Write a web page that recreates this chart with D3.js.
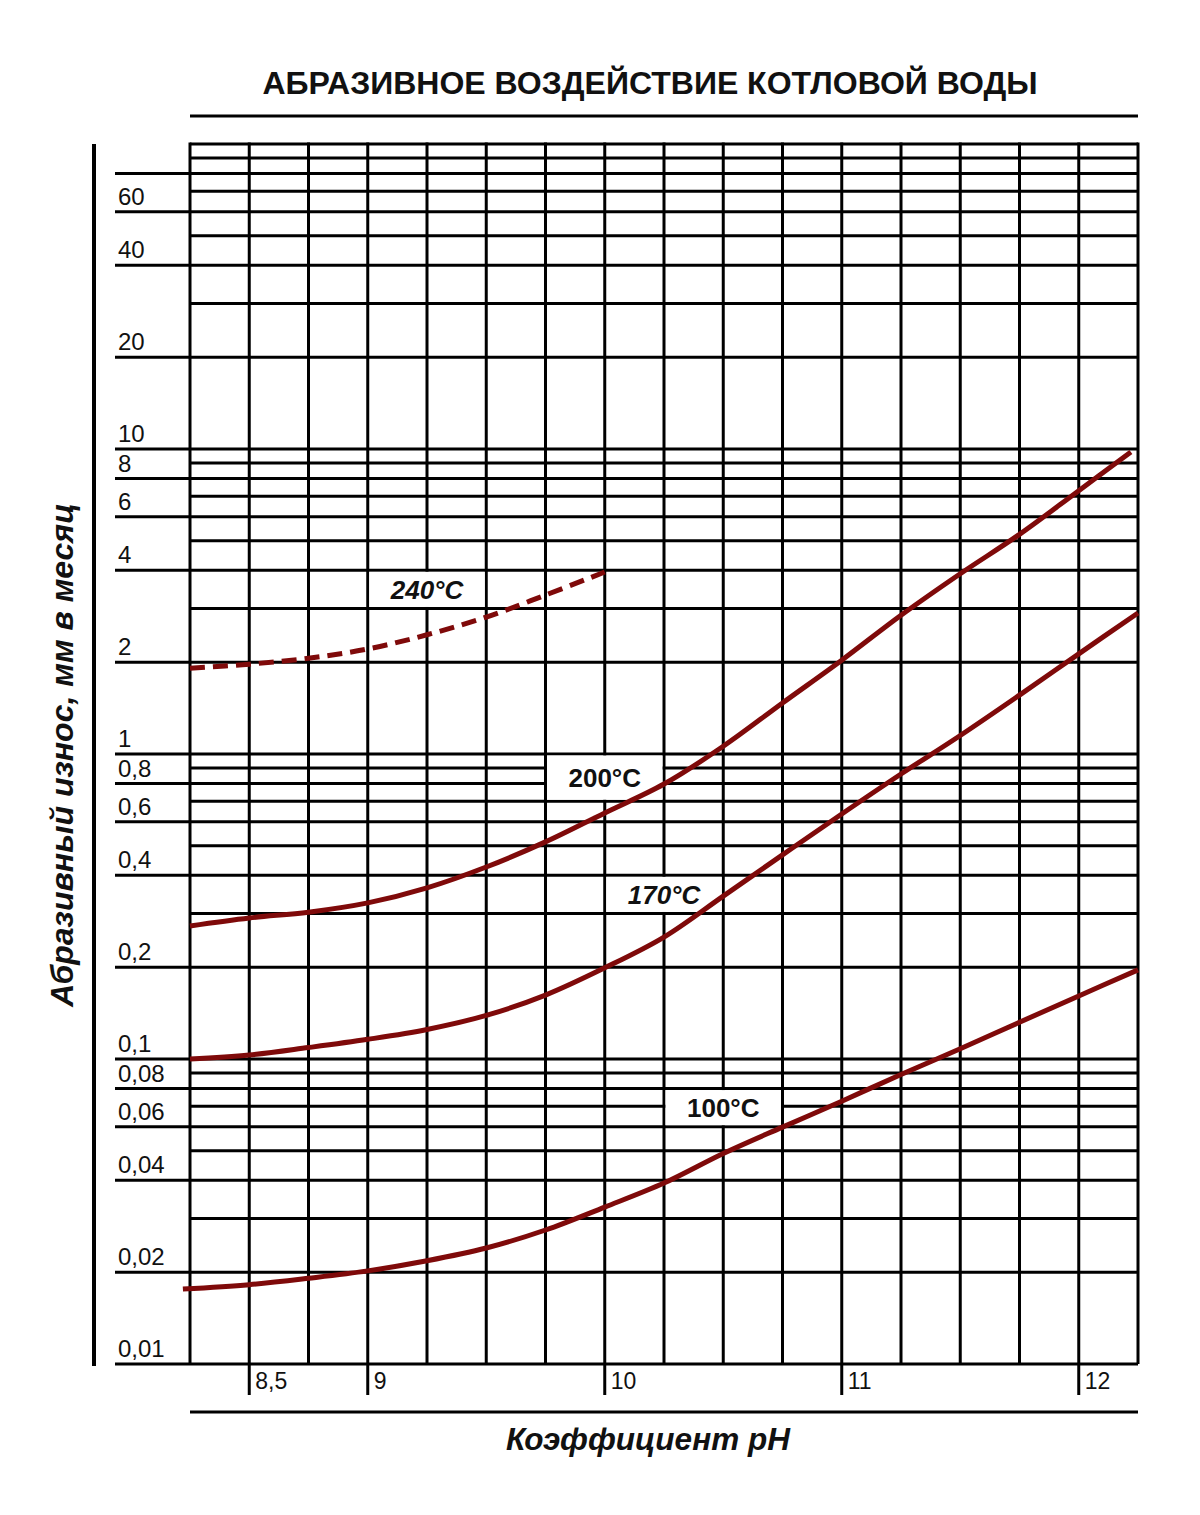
<!DOCTYPE html>
<html><head><meta charset="utf-8">
<script src="https://cdn.jsdelivr.net/npm/d3@7"></script>
<style>
body{margin:0;background:#fff}
svg{display:block}
text{font-family:"Liberation Sans",Arial,Helvetica,sans-serif;fill:#111}
</style>
</head><body>
<svg id="chart" width="1200" height="1515"></svg>
<script>
// ---------- data ----------
const title = "АБРАЗИВНОЕ ВОЗДЕЙСТВИЕ КОТЛОВОЙ ВОДЫ";
const yTitle = "Абразивный износ, мм в месяц";
const xTitle = "Коэффициент pH";

const phTicks = [8.5, 9, 10, 11, 12];
const phTickLabels = ["8,5", "9", "10", "11", "12"];
const phGrid = [8.25, 8.5, 8.75, 9, 9.25, 9.5, 9.75, 10, 10.25, 10.5, 10.75, 11, 11.25, 11.5, 11.75, 12, 12.25];

const majorValues = [0.01, 0.02, 0.04, 0.06, 0.08, 0.1, 0.2, 0.4, 0.6, 0.8, 1, 2, 4, 6, 8, 10, 20, 40, 60, 80];
const majorLabels = ["0,01", "0,02", "0,04", "0,06", "0,08", "0,1", "0,2", "0,4", "0,6", "0,8", "1", "2", "4", "6", "8", "10", "20", "40", "60", ""];
const minorValues = [0.03, 0.05, 0.07, 0.09, 0.3, 0.5, 0.7, 0.9, 3, 5, 7, 9, 30, 50, 70, 90, 100];

const ph100 = [8.22, 8.5, 8.75, 9, 9.25, 9.5, 9.75, 10, 10.25, 10.5, 10.75, 11, 11.25, 11.5, 11.75, 12, 12.25];
const wear100 = [0.0176, 0.0182, 0.0191, 0.0202, 0.0218, 0.0240, 0.0275, 0.0327, 0.0392, 0.0490, 0.0598, 0.0727, 0.0890, 0.108, 0.132, 0.161, 0.196];

const ph170 = [8.25, 8.5, 8.75, 9, 9.25, 9.5, 9.75, 10, 10.25, 10.5, 10.75, 11, 11.25, 11.5, 11.75, 12, 12.25];
const wear170 = [0.100, 0.103, 0.109, 0.116, 0.125, 0.139, 0.162, 0.199, 0.251, 0.342, 0.467, 0.636, 0.860, 1.15, 1.56, 2.13, 2.90];

const ph200 = [8.25, 8.5, 8.75, 9, 9.25, 9.5, 9.75, 10, 10.25, 10.5, 10.75, 11, 11.25, 11.5, 11.75, 12, 12.22];
const wear200 = [0.273, 0.290, 0.303, 0.325, 0.364, 0.426, 0.515, 0.641, 0.797, 1.06, 1.47, 2.03, 2.85, 3.90, 5.25, 7.30, 9.77];

const ph240 = [8.25, 8.5, 8.75, 9, 9.25, 9.5, 9.75, 10];
const wear240 = [1.91, 1.97, 2.06, 2.21, 2.46, 2.81, 3.32, 3.95];

const seriesNames = ["240°C", "200°C", "170°C", "100°C"];
// label boxes: [pH from, pH to, value low, value high]
const labelBoxes = [[9.0, 9.5, 3, 4], [9.75, 10.25, 0.7, 1], [10.0, 10.5, 0.3, 0.4], [10.25, 10.75, 0.06, 0.08]];
const labelItalic = [true, false, true, false];

// ---------- drawing ----------
const svg = d3.select("#chart");
const x = d3.scaleLinear().domain([8.25, 12.25]).range([190, 1138]);
const y = d3.scaleLog().domain([0.01, 100]).range([1364, 144]);
const lw = 3;
const red = "#7f0a0a";

// title
svg.append("text").attr("x", 650).attr("y", 94).attr("text-anchor", "middle")
  .attr("font-size", 32).attr("font-weight", "bold").text(title);
svg.append("line").attr("x1", 190).attr("x2", 1138).attr("y1", 116).attr("y2", 116)
  .attr("stroke", "#000").attr("stroke-width", lw);

// minor horizontal grid (plot only)
svg.append("g").selectAll("line").data(minorValues).join("line")
  .attr("x1", x(8.25)).attr("x2", x(12.25))
  .attr("y1", d => y(d)).attr("y2", d => y(d))
  .attr("stroke", "#000").attr("stroke-width", lw);

// major horizontal grid (extended left as ticks)
svg.append("g").selectAll("line").data(majorValues).join("line")
  .attr("x1", 115).attr("x2", x(12.25))
  .attr("y1", d => y(d)).attr("y2", d => y(d))
  .attr("stroke", "#000").attr("stroke-width", lw);

// vertical grid
svg.append("g").selectAll("line").data(phGrid).join("line")
  .attr("x1", d => x(d)).attr("x2", d => x(d))
  .attr("y1", y(100) - lw / 2).attr("y2", y(0.01))
  .attr("stroke", "#000").attr("stroke-width", lw);

// x ticks extending below
svg.append("g").selectAll("line").data(phTicks).join("line")
  .attr("x1", d => x(d)).attr("x2", d => x(d))
  .attr("y1", y(0.01)).attr("y2", 1395)
  .attr("stroke", "#000").attr("stroke-width", lw);
svg.append("g").selectAll("text").data(phTicks).join("text")
  .attr("x", d => x(d) + 6).attr("y", 1389)
  .attr("font-size", 23).text((d, i) => phTickLabels[i]);

// y labels
svg.append("g").selectAll("text").data(majorValues).join("text")
  .attr("x", 118).attr("y", d => y(d) - 7)
  .attr("font-size", 24).text((d, i) => majorLabels[i]);

// y axis thick line
svg.append("line").attr("x1", 94).attr("x2", 94).attr("y1", y(100)).attr("y2", y(0.01) + 2)
  .attr("stroke", "#000").attr("stroke-width", 4);

// bottom rule
svg.append("line").attr("x1", 190).attr("x2", 1138).attr("y1", 1412).attr("y2", 1412)
  .attr("stroke", "#000").attr("stroke-width", lw);

// axis titles
svg.append("text").attr("transform", "translate(73,755) rotate(-90)")
  .attr("text-anchor", "middle").attr("font-size", 32).attr("font-weight", "bold")
  .attr("font-style", "italic").text(yTitle);
svg.append("text").attr("x", 648).attr("y", 1450).attr("text-anchor", "middle")
  .attr("font-size", 31.5).attr("font-weight", "bold").attr("font-style", "italic").text(xTitle);

// label boxes (white, covering grid)
svg.append("g").selectAll("rect").data(labelBoxes).join("rect")
  .attr("x", d => x(d[0]) + lw / 2).attr("width", d => x(d[1]) - x(d[0]) - lw)
  .attr("y", d => y(d[3]) + lw / 2).attr("height", d => y(d[2]) - y(d[3]) - lw)
  .attr("fill", "#fff");

// curves
const line = d3.line().x(d => x(d[0])).y(d => y(d[1])).curve(d3.curveCatmullRom.alpha(0.5));
const series = [
  {ph: ph240, v: wear240, dash: "15,8"},
  {ph: ph200, v: wear200, dash: null},
  {ph: ph170, v: wear170, dash: null},
  {ph: ph100, v: wear100, dash: null}
];
series.forEach(s => {
  svg.append("path").datum(s.ph.map((p, i) => [p, s.v[i]]))
    .attr("d", line).attr("fill", "none").attr("stroke", red)
    .attr("stroke-width", 5).attr("stroke-dasharray", s.dash);
});

// curve labels
svg.append("g").selectAll("text").data(labelBoxes).join("text")
  .attr("x", d => (x(d[0]) + x(d[1])) / 2)
  .attr("y", d => (y(d[2]) + y(d[3])) / 2)
  .attr("dy", "0.36em").attr("text-anchor", "middle")
  .attr("font-size", 26).attr("font-weight", "bold")
  .attr("font-style", (d, i) => labelItalic[i] ? "italic" : "normal")
  .text((d, i) => seriesNames[i]);
</script>
</body></html>
